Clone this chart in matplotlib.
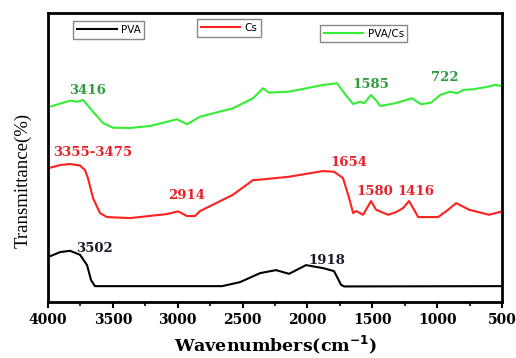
import numpy as np
import matplotlib
matplotlib.use("Agg")
import matplotlib.pyplot as plt
from matplotlib.ticker import MultipleLocator

# FTIR spectra (wavenumber, transmittance in arbitrary units)
pva_w = [4000, 3907, 3830, 3753, 3699, 3668, 3638, 2658, 2520, 2365, 2242, 2142,
         2011, 1880, 1795, 1741, 1718, 500]
pva_t = [45, 50, 51.3, 47.3, 37, 22, 16, 16, 20, 29, 32, 28.3,
         37, 34, 31, 17.3, 15.7, 16]

cs_w = [4000, 3907, 3830, 3753, 3715, 3692, 3653, 3599, 3545, 3368, 3083, 2998,
        2928, 2867, 2828, 2574, 2419, 2396, 2142, 1880, 1795, 1726, 1679, 1648,
        1625, 1571, 1510, 1471, 1379, 1317, 1263, 1217, 1178, 1147, 993, 916,
        854, 754, 600, 500]
cs_t = [133.7, 137, 138, 136.5, 132, 124, 104, 89, 85, 84, 88, 90.7,
        86, 86, 91, 107.3, 122, 122, 125.3, 131, 130.3, 124, 104, 89,
        91, 87.3, 101, 92.3, 87.3, 90, 94, 101, 92.3, 85, 85, 92.3,
        99, 92.3, 87.3, 90.7]

pvacs_w = [4000, 3830, 3776, 3730, 3653, 3576, 3499, 3368, 3214, 3005, 2928, 2828,
           2574, 2419, 2342, 2296, 2142, 1880, 1772, 1710, 1648, 1594, 1563, 1510,
           1463, 1440, 1325, 1194, 1124, 1047, 977, 900, 846, 800, 723, 631, 554, 500]
pvacs_t = [194.7, 201.3, 200.3, 202, 190.3, 179, 174.3, 174, 176, 182.7, 177.7, 185.3,
           193.7, 203.7, 213.7, 209.3, 210.3, 217, 218.7, 207.7, 198, 200.3, 198.7, 207,
           200.3, 196, 198.7, 203.7, 197.7, 199.3, 207, 210.3, 208.7, 212, 212.7, 214.7, 217, 216]

# peak labels: (text, wavenumber, y)
pva_peaks = [("3502", 3638, 54), ("1918", 1849, 42)]
cs_peaks = [("3355-3475", 3653, 150), ("2914", 2928, 107), ("1654", 1679, 140),
            ("1580", 1479, 111), ("1416", 1163, 111)]
pvacs_peaks = [("3416", 3692, 211), ("1585", 1510, 217), ("722", 939, 224)]

fig = plt.figure(figsize=(5.16, 3.58), dpi=100)
ax = fig.add_axes([0.093, 0.156, 0.880, 0.808])

l1, = ax.plot(pva_w, pva_t, color="black", lw=1.5)
l2, = ax.plot(cs_w, cs_t, color="#ff2020", lw=1.5)
l3, = ax.plot(pvacs_w, pvacs_t, color="#33ee33", lw=1.5)

lab = dict(fontfamily="DejaVu Serif", fontweight="bold", fontsize=9.5,
           ha="center", va="center")
for t, x, y in pva_peaks:
    ax.text(x, y, t, color="#1a1a2a", **lab)
for t, x, y in cs_peaks:
    ax.text(x, y, t, color="#e82028", **lab)
for t, x, y in pvacs_peaks:
    ax.text(x, y, t, color="#2e9e3e", **lab)

ax.set_xlim(4000, 500)
ax.set_ylim(0, 289)
ax.xaxis.set_major_locator(MultipleLocator(500))
ax.xaxis.set_minor_locator(MultipleLocator(250))
ax.tick_params(axis="x", which="major", direction="out", length=4, width=1.5)
ax.tick_params(axis="x", which="minor", direction="out", length=3, width=1.2)
ax.set_yticks([])
for lbl in ax.get_xticklabels():
    lbl.set_fontfamily("DejaVu Serif")
    lbl.set_fontweight("bold")
    lbl.set_fontsize(10)
for s in ax.spines.values():
    s.set_linewidth(2)

ax.set_xlabel("Wavenumbers(cm$^{\\mathbf{-1}}$)", fontfamily="DejaVu Serif",
              fontweight="bold", fontsize=12.5, labelpad=5)
ax.set_ylabel("Transmittance(%)", fontfamily="Liberation Serif", fontsize=13.5)
ax.yaxis.set_label_coords(-0.035, 0.42)

leg_kw = dict(loc="center", handlelength=3.8, fancybox=False,
              edgecolor="#888888", borderpad=0.35, handletextpad=0.4,
              framealpha=1, prop={"family": "DejaVu Sans", "size": 7.5})
lg1 = fig.legend([l1], ["PVA"], bbox_to_anchor=(0.211, 0.916), **leg_kw)
lg2 = fig.legend([l2], ["Cs"], bbox_to_anchor=(0.444, 0.922), **leg_kw)
lg3 = fig.legend([l3], ["PVA/Cs"], bbox_to_anchor=(0.705, 0.906), **leg_kw)

fig.savefig("out.png", dpi=100)
